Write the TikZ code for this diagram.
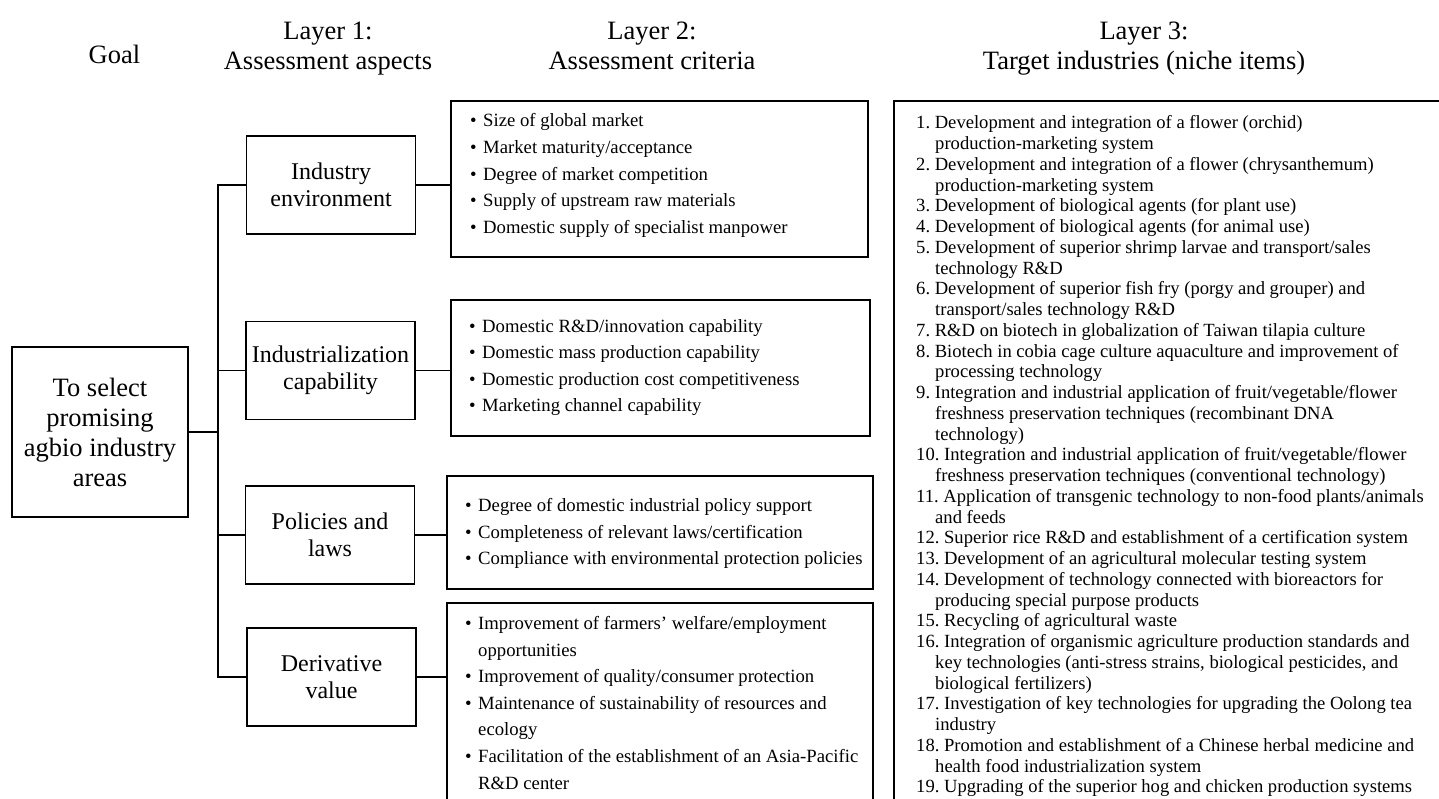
\documentclass[tikz,border=0pt]{standalone}
\usepackage{fontspec}
\setmainfont{Liberation Serif}
\frenchspacing
\newcommand\bitem{\par\hangindent=13pt\hangafter=1\noindent\makebox[13pt][l]{\textbullet}}
\newcommand\nitem{\par\hangindent=19pt\hangafter=1\noindent}
\newcommand\nl{\newline}
\begin{document}
\begin{tikzpicture}[x=1pt,y=-1pt,
  box/.style={draw, line width=1.5pt, inner sep=0pt, outer sep=0pt},
  hdr/.style={font=\fontsize{26.5}{30}\selectfont, align=center, anchor=base, inner sep=0pt},
  aspect/.style={box, anchor=center, align=center, minimum width=169pt, minimum height=98pt, font=\fontsize{24}{27}\selectfont},
  critbox/.style={box, anchor=north west},
  crit/.style={anchor=base west, inner sep=0pt, font=\fontsize{18.7}{26.6}\selectfont},
  items/.style={anchor=base west, inner sep=0pt, font=\fontsize{18.6}{20.75}\selectfont},
  conn/.style={line width=1.5pt}]
\useasboundingbox (0,0) rectangle (1439,799);
\clip (0,0) rectangle (1439,799);
\fill[white] (0,0) rectangle (1439,799);

% headers
\node[hdr] (hgoal) at (114.5,64) {Goal};
\node[hdr] (hl1) at (328,70) {Layer 1:\\Assessment aspects};
\node[hdr] (hl2) at (652,70) {Layer 2:\\Assessment criteria};
\node[hdr] (hl3) at (1144,70) {Layer 3:\\Target industries (niche items)};

% goal
\node[box, anchor=center, align=center, minimum width=176pt, minimum height=170pt,
  font=\fontsize{26.5}{30}\selectfont] (goal) at (100,432) {To select\\promising\\agbio industry\\areas};

% layer 1
\node[aspect] (a1) at (331,185) {Industry\\environment};
\node[aspect] (a2) at (330.5,370.5) {Industrialization\\capability};
\node[aspect] (a3) at (330,535) {Policies and\\laws};
\node[aspect] (a4) at (331.5,677) {Derivative\\value};

% layer 2 boxes
\node[critbox, minimum width=417pt, minimum height=156pt] (c1) at (451,101) {};
\node[critbox, minimum width=419pt, minimum height=136pt] (c2) at (451,300) {};
\node[critbox, minimum width=426pt, minimum height=113pt] (c3) at (447,476) {};
\node[critbox, minimum width=426pt, minimum height=240pt] (c4) at (447,603) {};

\node[crit] (t1) at (470,127) {\begin{minipage}[t]{410pt}\raggedright
\bitem Size of global market
\bitem Market maturity/acceptance
\bitem Degree of market competition
\bitem Supply of upstream raw materials
\bitem Domestic supply of specialist manpower\end{minipage}};
\node[crit] (t2) at (469,332) {\begin{minipage}[t]{410pt}\raggedright
\bitem Domestic R\&D/innovation capability
\bitem Domestic mass production capability
\bitem Domestic production cost competitiveness
\bitem Marketing channel capability\end{minipage}};
\node[crit] (t3) at (465,511.5) {\begin{minipage}[t]{420pt}\raggedright
\bitem Degree of domestic industrial policy support
\bitem Completeness of relevant laws/certification
\bitem Compliance with environmental protection policies\end{minipage}};
\node[crit] (t4) at (465,629.5) {\begin{minipage}[t]{420pt}\raggedright
\bitem Improvement of farmers’ welfare/employment\nl opportunities
\bitem Improvement of quality/consumer protection
\bitem Maintenance of sustainability of resources and\nl ecology
\bitem Facilitation of the establishment of an Asia-Pacific\nl R\&D center\end{minipage}};

% layer 3
\node[box, anchor=north west, minimum width=600pt, minimum height=760pt] (l3) at (894,101) {};
\node[items] (t5) at (916,129) {\begin{minipage}[t]{540pt}\raggedright
\nitem 1. Development and integration of a flower (orchid)\nl production-marketing system
\nitem 2. Development and integration of a flower (chrysanthemum)\nl production-marketing system
\nitem 3. Development of biological agents (for plant use)
\nitem 4. Development of biological agents (for animal use)
\nitem 5. Development of superior shrimp larvae and transport/sales\nl technology R\&D
\nitem 6. Development of superior fish fry (porgy and grouper) and\nl transport/sales technology R\&D
\nitem 7. R\&D on biotech in globalization of Taiwan tilapia culture
\nitem 8. Biotech in cobia cage culture aquaculture and improvement of\nl processing technology
\nitem 9. Integration and industrial application of fruit/vegetable/flower\nl freshness preservation techniques (recombinant DNA\nl technology)
\nitem 10. Integration and industrial application of fruit/vegetable/flower\nl freshness preservation techniques (conventional technology)
\nitem 11. Application of transgenic technology to non-food plants/animals\nl and feeds
\nitem 12. Superior rice R\&D and establishment of a certification system
\nitem 13. Development of an agricultural molecular testing system
\nitem 14. Development of technology connected with bioreactors for\nl producing special purpose products
\nitem 15. Recycling of agricultural waste
\nitem 16. Integration of organismic agriculture production standards and\nl key technologies (anti-stress strains, biological pesticides, and\nl biological fertilizers)
\nitem 17. Investigation of key technologies for upgrading the Oolong tea\nl industry
\nitem 18. Promotion and establishment of a Chinese herbal medicine and\nl health food industrialization system
\nitem 19. Upgrading of the superior hog and chicken production systems\end{minipage}};

% connectors
\coordinate (tk) at (218,0);
\draw[conn] (goal.east) -- (goal.east -| tk);
\draw[conn] (a1.west) -- (a1.west -| tk) -- (a4.west -| tk) -- (a4.west);
\draw[conn] (a2.west) -- (a2.west -| tk);
\draw[conn] (a3.west) -- (a3.west -| tk);
\draw[conn] (a1.east) -- (a1.east -| c1.west);
\draw[conn] (a2.east) -- (a2.east -| c2.west);
\draw[conn] (a3.east) -- (a3.east -| c3.west);
\draw[conn] (a4.east) -- (a4.east -| c4.west);
\end{tikzpicture}
\end{document}
